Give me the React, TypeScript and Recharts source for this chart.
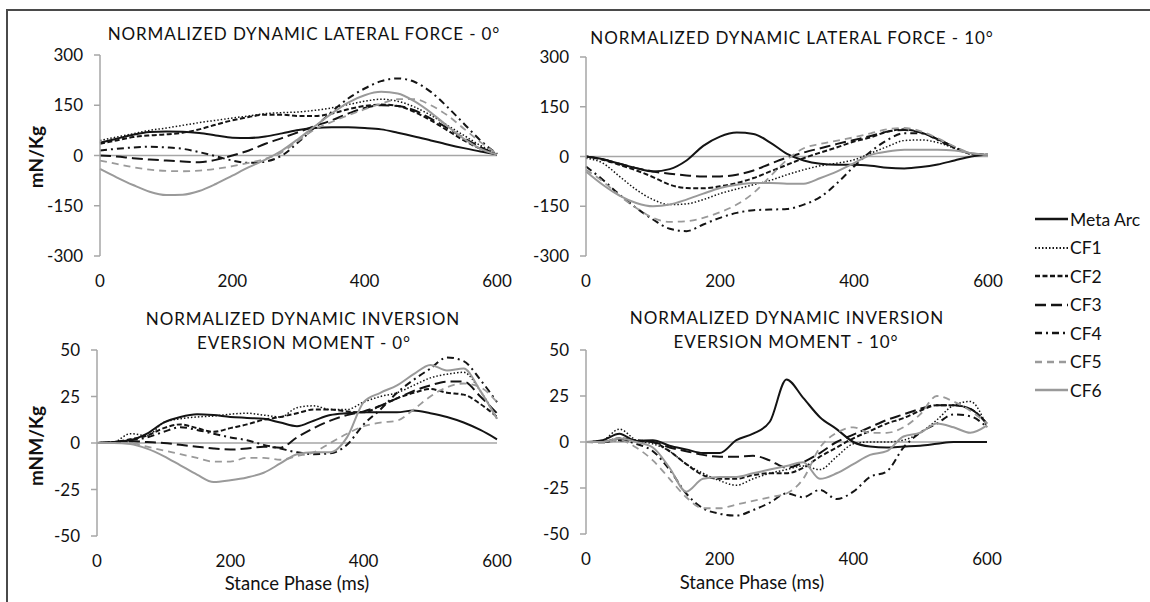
import React from 'react';
import { LineChart, Line, XAxis, YAxis, ReferenceLine } from 'recharts';

// Stance phase (ms) sample points
const STANCE_MS = [0, 25, 50, 75, 100, 125, 150, 175, 200, 225, 250, 275, 300, 325, 350, 375, 400, 425, 450, 475, 500, 525, 550, 575, 600];
const X_TICKS = [0, 200, 400, 600];
const FORCE_TICKS = [-300, -150, 0, 150, 300];
const MOMENT_TICKS = [-50, -25, 0, 25, 50];

// Normalized dynamic lateral force - 0°
const lf0_metaArc = [38, 50, 62, 70, 72, 71, 67, 60, 53, 52, 57, 66, 76, 82, 84, 84, 82, 78, 68, 57, 45, 33, 22, 12, 4];
const lf0_cf1 = [45, 55, 65, 75, 82, 90, 98, 105, 112, 118, 125, 128, 130, 135, 142, 152, 162, 168, 162, 145, 120, 90, 60, 30, 5];
const lf0_cf2 = [35, 45, 55, 60, 63, 68, 78, 92, 105, 115, 122, 122, 118, 118, 125, 138, 148, 152, 148, 130, 105, 75, 45, 20, 3];
const lf0_cf3 = [0, -3, -8, -12, -15, -18, -20, -13, 0, 15, 35, 52, 70, 88, 105, 125, 142, 150, 148, 135, 110, 82, 52, 25, 3];
const lf0_cf4 = [15, 20, 24, 26, 24, 20, 10, -2, -15, -22, -18, 0, 40, 85, 130, 170, 200, 222, 230, 220, 190, 145, 95, 45, 5];
const lf0_cf5 = [-15, -25, -35, -42, -46, -47, -45, -40, -32, -22, -10, 10, 45, 78, 100, 120, 138, 155, 168, 168, 150, 120, 80, 40, 5];
const lf0_cf6 = [-40, -65, -88, -108, -118, -117, -106, -85, -60, -35, -12, 15, 50, 88, 125, 158, 180, 190, 185, 162, 128, 88, 50, 20, 3];

// Normalized dynamic lateral force - 10°
const lf10_metaArc = [0, -8, -22, -35, -45, -38, -12, 32, 60, 72, 68, 42, 8, -12, -22, -25, -25, -28, -34, -36, -32, -24, -12, 0, 5];
const lf10_cf1 = [-5, -20, -60, -100, -130, -145, -143, -130, -112, -98, -85, -72, -55, -40, -28, -20, -10, 10, 30, 48, 50, 42, 25, 10, 5];
const lf10_cf2 = [0, -10, -25, -42, -62, -85, -95, -96, -90, -80, -65, -45, -25, -5, 12, 28, 45, 58, 75, 82, 72, 52, 28, 8, 5];
const lf10_cf3 = [0, -8, -22, -35, -45, -52, -57, -60, -60, -55, -42, -22, -3, 12, 25, 38, 50, 62, 75, 80, 72, 52, 28, 8, 5];
const lf10_cf4 = [-30, -70, -115, -155, -190, -218, -225, -205, -185, -170, -162, -160, -158, -145, -122, -80, -30, 15, 50, 70, 70, 50, 25, 8, 5];
const lf10_cf5 = [-40, -75, -118, -155, -185, -197, -195, -185, -168, -145, -110, -60, -10, 25, 38, 48, 58, 70, 82, 86, 76, 55, 30, 10, 5];
const lf10_cf6 = [-45, -85, -118, -140, -150, -145, -130, -112, -95, -85, -80, -80, -82, -82, -65, -45, -20, 5, 15, 20, 20, 20, 18, 10, 5];

// Normalized dynamic inversion eversion moment - 0°
const ie0_metaArc = [0, 0.5, 1.5, 5, 11, 14, 15.5, 15, 14, 13.5, 13, 11, 9, 12, 15, 16, 16.5, 16.5, 16.5, 17.5, 16, 14, 11, 7, 2];
const ie0_cf1 = [0, 0.5, 5, 4, 11, 13, 14, 14.5, 15.5, 16, 15, 14, 19, 20, 18, 18, 22, 25, 27, 31, 35, 37, 38, 28, 13];
const ie0_cf2 = [0, 0.5, 2, 4, 8, 10, 8, 6, 8, 10, 12.5, 14, 16, 18, 18, 17, 16.5, 20, 24, 27, 29, 27, 26, 21, 14];
const ie0_cf3 = [0, 0.5, 1, 0.5, 0, -1, -2, -3, -3.5, -3, -2, -2.5, 3, 8, 12, 15, 17, 20, 24, 28, 31, 33, 33, 25, 16];
const ie0_cf4 = [0, 0.5, 1.5, 3, 6, 8.5, 7, 5, 3, 1.5, -1, -3, -5, -6, -5.5, -1, 10, 18, 27, 34, 40, 46, 44, 34, 22];
const ie0_cf5 = [0, 0, 0, -2, -4, -6, -8, -10, -10, -8, -8, -9, -7, -5, 0, 5, 9, 11, 12, 18, 25, 30, 32, 30, 22];
const ie0_cf6 = [0, 0, -0.5, -3, -7, -12, -17, -21, -20, -18.5, -16, -11, -6, -5, -5, 3, 22, 27, 31, 37, 42, 39, 40, 28, 13];

// Normalized dynamic inversion eversion moment - 10°
const ie10_metaArc = [0, 1, 4.5, 0.5, 1, -2, -4, -6, -6, 1, 4.5, 11, 34, 24, 13.5, 7, 0, -2.5, -3, -2.5, -2, -1, 0, 0, 0];
const ie10_cf1 = [0, 1, 7, 1, -1, -5, -12, -17, -21, -23.5, -20, -17, -15, -13, -15, -8, -1, 0, 0, 1, 5, 12, 20, 22, 8];
const ie10_cf2 = [0, 0, 2, 1, 0, -5, -12, -18, -20, -20, -18, -17, -17, -14, -8, -3, 2, 6, 10, 13, 17, 20, 20, 18, 10];
const ie10_cf3 = [0, 0, 1, 0.5, 0, -3, -5, -7, -8, -8, -7.5, -10, -14, -11, -6, 0, 4, 8, 12, 15, 18, 20, 20, 18, 10];
const ie10_cf4 = [0, 0, 1, -1, -5, -15, -28, -36, -39, -40, -37, -33, -28, -30, -26, -31, -27, -19, -16, -3, 5, 10, 15, 14, 8];
const ie10_cf5 = [0, -0.5, 1, -3, -10, -20, -30, -36, -36, -34, -32, -30, -28, -20, -3, 5, 8, 5, 5, 8, 15, 25, 22, 17, 10];
const ie10_cf6 = [0, 0, 2, 0, -3, -14, -27, -20, -19, -19, -17, -15, -13, -11, -20, -17, -12, -7, -5, 3, 5, 10, 8, 5, 9];

const SERIES = [
  { key: 'metaArc', name: 'Meta Arc', color: '#141414', width: 2, dash: undefined as string | undefined },
  { key: 'cf1', name: 'CF1', color: '#141414', width: 1.5, dash: '1.5 2' },
  { key: 'cf2', name: 'CF2', color: '#141414', width: 2, dash: '5 2.5' },
  { key: 'cf3', name: 'CF3', color: '#141414', width: 2, dash: '11 5' },
  { key: 'cf4', name: 'CF4', color: '#141414', width: 2, dash: '7 4 2 4' },
  { key: 'cf5', name: 'CF5', color: '#9a9a9a', width: 1.8, dash: '7 5' },
  { key: 'cf6', name: 'CF6', color: '#9a9a9a', width: 2, dash: undefined },
];

function buildRows(cols: Record<string, number[]>) {
  return STANCE_MS.map((t, i) => {
    const row: Record<string, number> = { t };
    Object.keys(cols).forEach((k) => {
      row[k] = cols[k][i];
    });
    return row;
  });
}

const lf0Rows = buildRows({ metaArc: lf0_metaArc, cf1: lf0_cf1, cf2: lf0_cf2, cf3: lf0_cf3, cf4: lf0_cf4, cf5: lf0_cf5, cf6: lf0_cf6 });
const lf10Rows = buildRows({ metaArc: lf10_metaArc, cf1: lf10_cf1, cf2: lf10_cf2, cf3: lf10_cf3, cf4: lf10_cf4, cf5: lf10_cf5, cf6: lf10_cf6 });
const ie0Rows = buildRows({ metaArc: ie0_metaArc, cf1: ie0_cf1, cf2: ie0_cf2, cf3: ie0_cf3, cf4: ie0_cf4, cf5: ie0_cf5, cf6: ie0_cf6 });
const ie10Rows = buildRows({ metaArc: ie10_metaArc, cf1: ie10_cf1, cf2: ie10_cf2, cf3: ie10_cf3, cf4: ie10_cf4, cf5: ie10_cf5, cf6: ie10_cf6 });

const FONT = 'Lato, "Open Sans", sans-serif';
const TEXT = '#111111';
const AXIS = '#a6a6a6';
const TICK_SIZE = 17;

const YW = 70;
const MT = 10;
const MR = 15;
const XH = 40;

function Panel(props: {
  rows: Record<string, number>[];
  x0: number; x1: number; y0: number; y1: number;
  ticks: number[]; domain: [number, number];
}) {
  const { rows, x0, x1, y0, y1, ticks, domain } = props;
  const left = x0 - YW;
  const top = y0 - MT;
  const width = x1 - left + MR;
  const height = y1 - top + XH;
  return (
    <div style={{ position: 'absolute', left, top, width, height }}>
      <LineChart width={width} height={height} data={rows} margin={{ top: MT, right: MR, bottom: 0, left: 0 }}>
        <XAxis
          dataKey="t"
          type="number"
          domain={[0, 600]}
          ticks={X_TICKS}
          interval={0}
          axisLine={false}
          tickLine={false}
          tickSize={0}
          tickMargin={19}
          height={XH}
          tick={{ fill: TEXT, fontSize: TICK_SIZE, fontFamily: FONT }}
        />
        <YAxis
          type="number"
          domain={domain}
          ticks={ticks}
          interval={0}
          allowDataOverflow
          width={YW}
          axisLine={{ stroke: AXIS, strokeWidth: 1.5 }}
          tickLine={{ stroke: AXIS, strokeWidth: 1.5 }}
          tickSize={6}
          tickMargin={11}
          tick={{ fill: TEXT, fontSize: TICK_SIZE, fontFamily: FONT }}
        />
        <ReferenceLine y={0} stroke={AXIS} strokeWidth={1.5} />
        {SERIES.map((s) => (
          <Line
            key={s.key}
            dataKey={s.key}
            name={s.name}
            type="monotone"
            stroke={s.color}
            strokeWidth={s.width}
            strokeDasharray={s.dash}
            dot={false}
            activeDot={false}
            isAnimationActive={false}
          />
        ))}
      </LineChart>
    </div>
  );
}

function Txt(props: { x: number; y: number; children: React.ReactNode; size?: number; bold?: boolean; spacing?: number; rotate?: boolean }) {
  const { x, y, children, size = 17, bold = false, spacing = 0, rotate = false } = props;
  return (
    <div
      style={{
        position: 'absolute',
        left: x,
        top: y,
        transform: `translate(-50%, -50%)${rotate ? ' rotate(-90deg)' : ''}`,
        whiteSpace: 'nowrap',
        fontFamily: FONT,
        fontSize: size,
        fontWeight: bold ? 700 : 400,
        letterSpacing: spacing,
        color: TEXT,
        lineHeight: 1,
      }}
    >
      {children}
    </div>
  );
}

function Legend() {
  const top0 = 219;
  const gap = 28.5;
  return (
    <div style={{ position: 'absolute', left: 1030, top: top0 - 12, width: 120, height: 200 }}>
      {SERIES.map((s, i) => (
        <div key={s.key} style={{ position: 'absolute', left: 0, top: i * gap, height: 24, display: 'flex', alignItems: 'center' }}>
          <svg width={40} height={24} style={{ display: 'block' }}>
            <line x1={5} x2={38} y1={12} y2={12} stroke={s.color} strokeWidth={s.width + 0.5} strokeDasharray={s.dash} />
          </svg>
          <span style={{ fontFamily: FONT, fontSize: 17.5, color: TEXT, whiteSpace: 'nowrap' }}>{s.name}</span>
        </div>
      ))}
    </div>
  );
}

export default function App() {
  return (
    <div style={{ position: 'absolute', left: 0, top: 0, width: 1150, height: 602, background: '#ffffff', overflow: 'hidden' }}>
      {/* frame */}
      <div style={{ position: 'absolute', left: 6, top: 9, width: 1144, height: 2, background: '#4a4a4a' }} />
      <div style={{ position: 'absolute', left: 6, top: 9, width: 2, height: 593, background: '#4a4a4a' }} />

      <Panel rows={lf0Rows} x0={100} x1={497} y0={55} y1={256} ticks={FORCE_TICKS} domain={[-300, 300]} />
      <Panel rows={lf10Rows} x0={586} x1={988} y0={57} y1={256} ticks={FORCE_TICKS} domain={[-300, 300]} />
      <Panel rows={ie0Rows} x0={97} x1={497} y0={350} y1={536} ticks={MOMENT_TICKS} domain={[-50, 50]} />
      <Panel rows={ie10Rows} x0={586} x1={987} y0={350} y1={534} ticks={MOMENT_TICKS} domain={[-50, 50]} />

      <Txt x={304} y={33} spacing={0.9}>NORMALIZED DYNAMIC LATERAL FORCE - 0°</Txt>
      <Txt x={792} y={37} spacing={0.9}>NORMALIZED DYNAMIC LATERAL FORCE - 10°</Txt>
      <Txt x={303} y={318} spacing={0.9}>NORMALIZED DYNAMIC INVERSION</Txt>
      <Txt x={304} y={342} spacing={0.9}>EVERSION MOMENT - 0°</Txt>
      <Txt x={787} y={317} spacing={0.9}>NORMALIZED DYNAMIC INVERSION</Txt>
      <Txt x={786} y={341} spacing={0.9}>EVERSION MOMENT - 10°</Txt>

      <Txt x={35} y={157} size={19} bold rotate>mN/Kg</Txt>
      <Txt x={35} y={446} size={19} bold rotate>mNM/Kg</Txt>

      <Txt x={297} y={583} size={18.5}>Stance Phase (ms)</Txt>
      <Txt x={752} y={582} size={18.5}>Stance Phase (ms)</Txt>

      <Legend />
    </div>
  );
}
